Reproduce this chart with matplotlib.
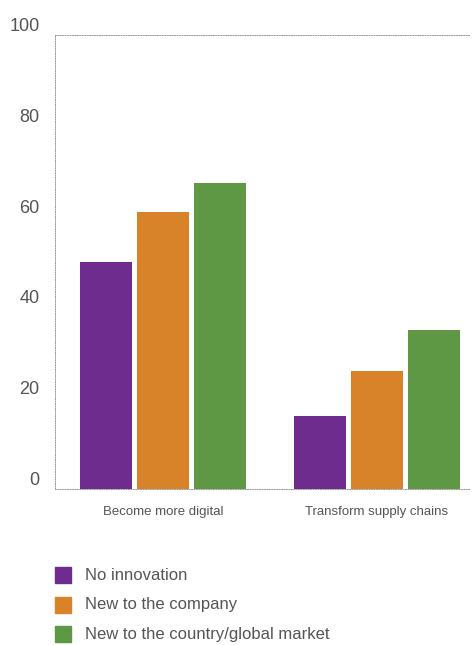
import matplotlib
matplotlib.use('Agg')
import matplotlib.pyplot as plt
import numpy as np
from matplotlib.patches import Rectangle

plt.rcParams['font.family'] = ['Liberation Sans', 'DejaVu Sans']

categories = ['Become more digital', 'Transform supply chains']
series_names = ['No innovation', 'New to the company', 'New to the country/global market']
no_innovation = [50, 16]
new_company = [61, 26]
new_country = [67.5, 35]
colors = ['#6E2C8E', '#D8822A', '#5E9845']
text_color = '#555555'

fig = plt.figure(figsize=(4.72, 6.45), dpi=100)
ax = fig.add_axes([55 / 472, 1 - 489 / 645, (470 - 55) / 472, (489 - 35) / 645])

x = np.arange(len(categories))
width = 0.243
step = 0.266
for i, (vals, col) in enumerate(zip([no_innovation, new_company, new_country], colors)):
    ax.bar(x + (i - 1) * step, vals, width=width, color=col, zorder=2)

ax.set_xlim(-0.505, 0.435 + 1)
ax.set_ylim(0, 100)
ax.set_yticks([0, 20, 40, 60, 80, 100])
ax.set_yticklabels(['0', '20', '40', '60', '80', '100'], fontsize=13, color=text_color)
ax.set_xticks(x)
ax.set_xticklabels(categories, fontsize=9.5, color=text_color)
ax.tick_params(axis='y', length=0, pad=11)
ax.tick_params(axis='x', length=0, pad=12)
for lab in ax.get_yticklabels():
    lab.set_verticalalignment('bottom')

for side in ['top', 'left', 'bottom']:
    ax.spines[side].set_linestyle((0, (1, 1.5)))
    ax.spines[side].set_linewidth(0.7)
    ax.spines[side].set_color('#999999')
ax.spines['right'].set_visible(False)

# legend below the plot
for i, (name, col) in enumerate(zip(series_names, colors)):
    y = 1 - (575 + i * 29.5) / 645
    fig.patches.append(Rectangle((55 / 472, y - 8 / 645), 16 / 472, 16 / 645,
                                 transform=fig.transFigure, color=col))
    fig.text(85 / 472, y, name, fontsize=12, color=text_color, va='center')

fig.savefig('out.png', dpi=100)
